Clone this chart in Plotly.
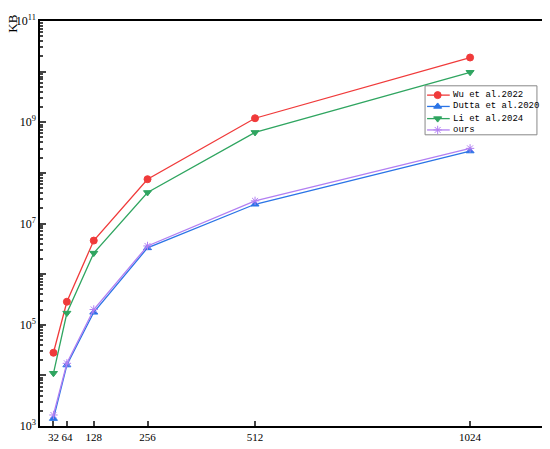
import plotly.graph_objects as go

sizes = [32, 64, 128, 256, 512, 1024]
wu_2022 = [2.8e4, 2.85e5, 4.6e6, 7.5e7, 1.2e9, 1.9e10]
dutta_2020 = [1.4e3, 1.6e4, 1.76e5, 3.3e6, 2.4e7, 2.7e8]
li_2024 = [1.1e4, 1.7e5, 2.6e6, 4.1e7, 6.3e8, 9.7e9]
ours = [1.65e3, 1.73e4, 2.0e5, 3.6e6, 2.8e7, 3.05e8]

x_ticks = [32, 64, 128, 256, 512, 1024]
y_exps = list(range(3, 12))

series = [
    ("Wu et al.2022", wu_2022, "#f03a3a", "circle"),
    ("Dutta et al.2020", dutta_2020, "#2a74e6", "triangle-up"),
    ("Li et al.2024", li_2024, "#2fa560", "triangle-down"),
    ("ours", ours, "#b27ff2", "asterisk-open"),
]

fig = go.Figure()
for name, vals, col, sym in series:
    fig.add_trace(go.Scatter(x=sizes, y=vals, name=name, mode="lines+markers",
                             line=dict(color=col, width=1.3), showlegend=False,
                             marker=dict(symbol=sym, size=7, color=col,
                                         line=dict(color=col, width=1))))

# compact legend (plotly's own legend rows are too tall to fit between the lines)
leg_rows = [0.817, 0.789, 0.759, 0.731]
fig.add_shape(type="rect", xref="paper", yref="paper", x0=0.764, x1=0.986, y0=0.719, y1=0.840,
              line=dict(color="#888888", width=1), fillcolor="white", layer="between")
for (name, vals, col, sym), ly in zip(series, leg_rows):
    fig.add_trace(go.Scatter(x=[0.768, 0.813], y=[ly, ly], mode="lines", xaxis="x2", yaxis="y2",
                             line=dict(color=col, width=1.3), showlegend=False, hoverinfo="skip"))
    fig.add_trace(go.Scatter(x=[0.789], y=[ly], mode="markers", xaxis="x2", yaxis="y2",
                             marker=dict(symbol=sym, size=7, color=col, line=dict(color=col, width=1)),
                             showlegend=False, hoverinfo="skip"))
    fig.add_annotation(text=name, xref="paper", yref="paper", x=0.815, y=ly,
                       xanchor="left", yanchor="middle", showarrow=False,
                       font=dict(family="Liberation Mono", size=9))

# page body has an 8px margin, so the figure is sized to fit the window
fig.update_layout(
    width=542, height=441,
    margin=dict(l=32, r=6, t=13, b=23, autoexpand=False),
    paper_bgcolor="white", plot_bgcolor="white",
    font=dict(family="Liberation Serif", size=12, color="black"),
    showlegend=False,
    xaxis=dict(range=[0, 1200], tickvals=x_ticks, ticktext=[str(v) for v in x_ticks],
               tickangle=0, tickfont=dict(size=11),
               ticks="inside", ticklen=5, tickwidth=1.5, showgrid=False, zeroline=False,
               showline=True, linecolor="black", linewidth=1.5, mirror=True),
    yaxis=dict(type="log", range=[3, 11],
               tickvals=[10 ** e for e in y_exps],
               ticktext=["10<sup>%d</sup>" % e if e % 2 == 1 else "" for e in y_exps],
               ticks="inside", ticklen=6, tickwidth=1.5, showgrid=False, zeroline=False,
               showline=True, linecolor="black", linewidth=1.5, mirror=True,
               minor=dict(ticks="inside", ticklen=3, dtick="D1", showgrid=False)),
    xaxis2=dict(overlaying="x", range=[0, 1], visible=False),
    yaxis2=dict(overlaying="y", range=[0, 1], visible=False),
)

fig.add_annotation(text="KB", xref="paper", yref="paper", x=-0.054, y=1.02,
                   xanchor="center", yanchor="top", textangle=-90, showarrow=False,
                   font=dict(family="Liberation Serif", size=13))

fig.write_html("out.html")
